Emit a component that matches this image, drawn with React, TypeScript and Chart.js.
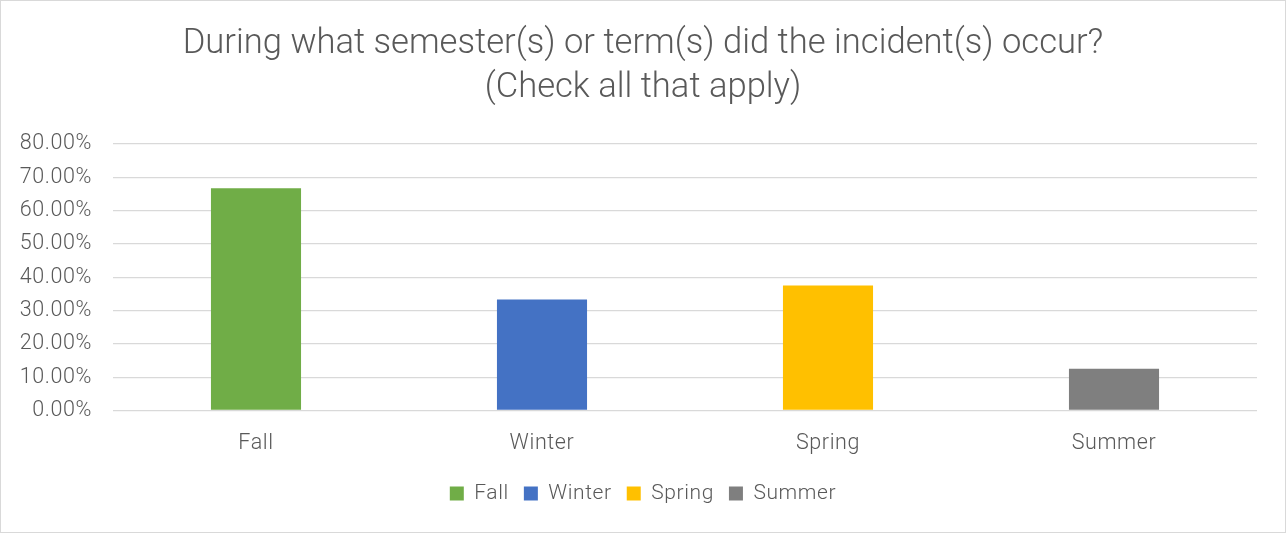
import React, { useEffect, useRef } from "react";
import { Chart, registerables } from "chart.js";

Chart.register(...registerables);

const categories = ["Fall", "Winter", "Spring", "Summer"];
const percentages = [66.67, 33.33, 37.5, 12.5];
const barColors = ["#70ad47", "#4472c4", "#ffc000", "#7f7f7f"];
const yTicks = [0, 10, 20, 30, 40, 50, 60, 70, 80];
const titleLines = [
  "During what semester(s) or term(s) did the incident(s) occur?",
  "(Check all that apply)",
];

const TEXT = "#595959";
const GRID = "#d9d9d9";
const FAMILY = "Roboto, 'Open Sans', sans-serif";
const LS = "0.6px";

const spacingPlugin = {
  id: "spacing",
  beforeLayout(chart: any) {
    chart.ctx.letterSpacing = LS;
  },
  afterLayout(chart: any) {
    const t = chart.titleBlock;
    if (t && !t.__patched) {
      const orig = t.draw.bind(t);
      t.draw = (...args: any[]) => {
        const ctx = chart.ctx;
        const prev = ctx.letterSpacing;
        ctx.letterSpacing = "0px";
        orig(...args);
        ctx.letterSpacing = prev;
      };
      t.__patched = true;
    }
  },
  beforeDraw(chart: any) {
    chart.ctx.letterSpacing = LS;
  },
};

export default function App() {
  const ref = useRef<HTMLCanvasElement>(null);

  useEffect(() => {
    if (!ref.current) return;
    const chart = new Chart(ref.current, {
      type: "bar",
      data: {
        labels: categories,
        datasets: [
          {
            data: percentages,
            backgroundColor: barColors,
            barPercentage: 1,
            categoryPercentage: 0.315,
          },
        ],
      },
      plugins: [spacingPlugin],
      options: {
        responsive: false,
        animation: false,
        layout: { padding: { left: 19, right: 19, top: 0, bottom: 18 } },
        plugins: {
          title: {
            display: true,
            text: titleLines,
            color: TEXT,
            font: { family: FAMILY, size: 34.6, weight: 300 as any, lineHeight: 1.27 },
            padding: { top: 21, bottom: 34 },
          },
          legend: {
            position: "bottom",
            labels: {
              generateLabels: () =>
                categories.map((c, i) => ({
                  text: c,
                  fillStyle: barColors[i],
                  strokeStyle: barColors[i],
                  lineWidth: 0,
                  hidden: false,
                  index: i,
                  datasetIndex: 0,
                  fontColor: TEXT,
                })),
              boxWidth: 14,
              boxHeight: 14,
              padding: 15,
              color: TEXT,
              font: { family: FAMILY, size: 21, weight: 300 as any },
            },
          },
          tooltip: { enabled: false },
        },
        scales: {
          x: {
            grid: { display: false, drawTicks: false },
            border: { display: false },
            ticks: {
              padding: 20,
              color: TEXT,
              font: { family: FAMILY, size: 21.5, weight: 300 as any },
            },
            afterFit: (s: any) => {
              s.height = 57.5;
            },
          },
          y: {
            min: 0,
            max: 80,
            afterBuildTicks: (s: any) => {
              s.ticks = yTicks.map((v) => ({ value: v }));
            },
            ticks: {
              padding: 21,
              color: TEXT,
              font: { family: FAMILY, size: 21.5, weight: 300 as any },
              callback: (v: any) => Number(v).toFixed(2) + "%",
            },
            grid: { color: GRID, lineWidth: 1.3, drawTicks: false },
            border: { display: false },
            afterFit: (s: any) => {
              s.width = 93;
            },
          },
          y2: {
            position: "right",
            display: true,
            grid: { display: false, drawTicks: false },
            ticks: { display: false },
            border: { display: false },
            afterFit: (s: any) => {
              s.width = 9;
            },
          },
        },
      },
    });
    return () => chart.destroy();
  }, []);

  return (
    <div
      style={{
        position: "fixed",
        left: 0,
        top: 0,
        width: 1286,
        height: 533,
        boxSizing: "border-box",
        border: `1px solid ${GRID}`,
        background: "#fff",
      }}
    >
      <canvas ref={ref} width={1284} height={531} style={{ display: "block" }} />
    </div>
  );
}
